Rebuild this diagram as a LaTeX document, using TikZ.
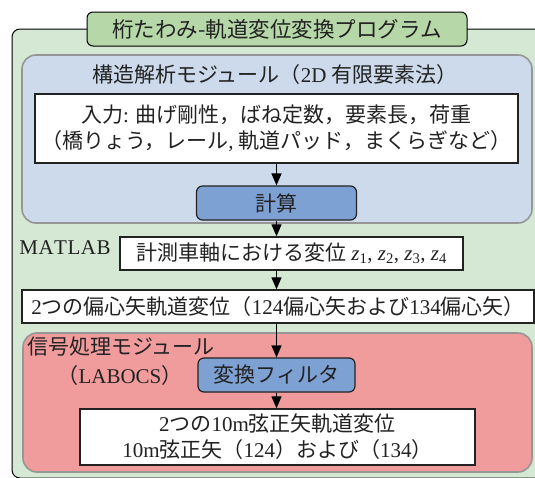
\documentclass[tikz,border=0pt]{standalone}
\usepackage{fontspec}
\setmainfont{Liberation Serif}
\newfontfamily\jp{Noto Sans CJK JP}
\newcommand\J[1]{{\jp #1}}
\newcommand\zz[1]{\textit{z}\textsubscript{#1}}
\usetikzlibrary{arrows.meta}
\definecolor{greenbg}{RGB}{213,232,212}
\definecolor{titlefill}{RGB}{182,215,168}
\definecolor{bluebg}{RGB}{204,218,235}
\definecolor{modborder}{RGB}{150,150,150}
\definecolor{stepfill}{RGB}{126,161,211}
\definecolor{pinkbg}{RGB}{240,156,156}
\definecolor{ink}{RGB}{34,34,34}
\tikzset{
  box/.style={rectangle, inner sep=0pt, align=center, text=ink,
    font=\fontsize{21}{26}\selectfont},
  outerbox/.style={box, fill=greenbg, draw=black, line width=1pt, rounded corners=8pt},
  titlebox/.style={box, fill=titlefill, draw=black, line width=1pt, rounded corners=6pt},
  modbox/.style={box, draw=modborder, line width=1.6pt, rounded corners=14pt},
  whitebox/.style={box, fill=white, draw=ink, line width=1.3pt},
  stepbox/.style={box, fill=stepfill, draw=ink, line width=1.2pt, rounded corners=6pt},
  lbl/.style={inner sep=0pt, text=ink, font=\fontsize{21}{26}\selectfont, align=center},
  flow/.style={draw=black, line width=1.2pt, -{Triangle[width=10pt,length=12pt]}},
}
\begin{document}
\begin{tikzpicture}[x=1pt, y=-1pt]
\useasboundingbox (0,0) rectangle (535,477);
\clip (0,0) rectangle (535,477);
% outer program container
\node[outerbox, minimum width=548pt, minimum height=449pt] (prog) at (286,253.5) {};
\node[titlebox, minimum width=380pt, minimum height=34pt, font=\fontsize{21.5}{26}\selectfont] (title) at (277,29)
  {\J{桁たわみ-軌道変位変換プログラム}};
% structural analysis module
\node[modbox, fill=bluebg, minimum width=510pt, minimum height=168pt] (struct) at (277,139) {};
\node[lbl] (structlbl) at (275,75) {\J{構造解析モジュール（}2D \J{有限要素法）}};
\node[whitebox, minimum width=483pt, minimum height=69pt] (inp) at (276.5,128.5)
  {\J{入力}: \J{曲げ剛性，ばね定数，要素長，荷重}\\\J{（橋りょう，レール}, \J{軌道パッド，まくらぎなど）}};
\node[stepbox, minimum width=160pt, minimum height=34pt] (calc) at (276.5,203) {\J{計算}};
% MATLAB
\node[lbl, font=\fontsize{21}{26}\selectfont] (matlab) at (65,248) {M\kern0.5pt A\kern0.5pt T\kern0.5pt L\kern0.5pt A\kern0.5pt B};
\node[whitebox, minimum width=343pt, minimum height=33pt] (meas) at (291.5,253.5)
  {\J{計測車軸における変位} \zz{1}, \zz{2}, \zz{3}, \zz{4}};
\node[whitebox, minimum width=512pt, minimum height=33pt] (two) at (278,306.5)
  {2\J{つの偏心矢軌道変位（}124\J{偏心矢および}134\J{偏心矢）}};
% signal processing module
\node[modbox, fill=pinkbg, minimum width=509pt, minimum height=139pt] (sig) at (277.5,402.5) {};
\node[lbl, anchor=west] (siglbl) at (27,347) {\J{信号処理モジュール}};
\node[lbl] (labocs) at (120,376) {\J{（}LABOCS\J{）}};
\node[stepbox, minimum width=157pt, minimum height=34pt] (filt) at (276.5,375) {\J{変換フィルタ}};
\node[whitebox, minimum width=395pt, minimum height=56pt] (final) at (277.5,437)
  {2\J{つの}10m\J{弦正矢軌道変位}\\10m\J{弦正矢（}124\J{）および（}134\J{）}};
% connectors
\draw[flow] (inp.south -| calc.north) -- (calc.north);
\draw[flow] (calc.south) -- (calc.south |- meas.north);
\draw[flow] (calc.south |- meas.south) -- (calc.south |- two.north);
\draw[flow] (filt.north |- two.south) -- (filt.north);
\draw[flow] (filt.south) -- (filt.south |- final.north);
\end{tikzpicture}
\end{document}
